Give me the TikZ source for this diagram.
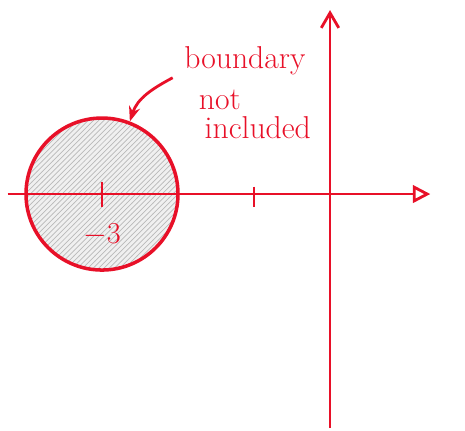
\documentclass[tikz,border=0pt]{standalone}
\usepackage{xcolor}
\usepackage{tikz}
\usetikzlibrary{arrows.meta,positioning,patterns}

\definecolor{ink}{RGB}{232,16,40}

\begin{document}
\begin{tikzpicture}[
  x=1.52cm,y=1.52cm,
  axis/.style={draw=ink,line width=1.6pt},
  disk/.style={circle,draw=ink,line width=2pt,minimum size=3.04cm,inner sep=0pt,
    preaction={fill=gray!12},pattern=north east lines,pattern color=gray!55},
  lbl/.style={text=ink,font=\fontsize{18}{20}\selectfont,inner sep=0pt},
  arr/.style={-{Stealth[length=3mm]},draw=ink,line width=1.6pt}
]
\useasboundingbox (-4.342,-3.105) rectangle (1.776,2.553);

\coordinate (xl) at (-4.24,0);
\coordinate (xr) at (1.32,0);
\coordinate (yb) at (0,-3.08);
\coordinate (yt) at (0,2.42);

\node[disk] (disk) at (-3,0) {};

\draw[axis,-{Triangle[open,length=3.5mm,width=3.5mm]}] (xl) -- (xr);
\draw[axis,-{Straight Barb[length=3mm,width=3.5mm]}] (yb) -- (yt);

% ticks
\coordinate (t3) at (-3,0);
\coordinate (t1) at (-1,0);
\draw[axis] ([yshift=2.5mm]t3) -- ([yshift=-2.5mm]t3);
\draw[axis] ([yshift=1.5mm]t1) -- ([yshift=-2.5mm]t1);
\node[lbl,below=6mm of t3] (m3) {$-3$};

\node[lbl] (bnd) at (-1.12,1.76) {boundary};
\node[lbl] (nt) at (-1.45,1.24) {not};
\node[lbl] (inc) at (-0.95,0.87) {included};

\coordinate (tail) at (-2.07,1.53);
\draw[arr] (tail) to[out=208,in=72] (disk.69);
\end{tikzpicture}
\end{document}
